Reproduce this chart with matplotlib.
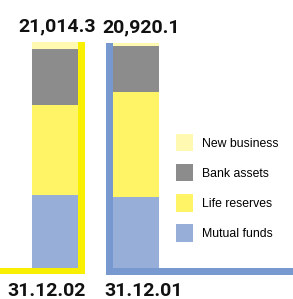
import numpy as np
import matplotlib
matplotlib.use('Agg')
import matplotlib.pyplot as plt
import matplotlib.patches as mpatches

# data
dates = ['31.12.02', '31.12.01']
totals = [21014.3, 20920.1]
mutual_funds = [6790, 6600]
life_reserves = [8370, 9760]
bank_assets = [5200, 4280]
new_business = [654.3, 280.1]

series = [mutual_funds, life_reserves, bank_assets, new_business]
names = ['Mutual funds', 'Life reserves', 'Bank assets', 'New business']
colors = ['#96aed8', '#fff466', '#8c8c8c', '#fff9b2']

plt.rcParams['font.family'] = ['Liberation Sans', 'DejaVu Sans']

W, H = 293, 299
fig = plt.figure(figsize=(W / 100, H / 100), dpi=100)
ax = fig.add_axes([0, 0, 1, 1])
ax.set_axis_off()

# layout: one pixel in data units
upx = totals[0] / 226.0
xpx = 1 / 81.0
ax.set_ylim(-31 * upx, 268 * upx)
ax.set_xlim(-55 * xpx, (W - 55) * xpx)

x = np.arange(len(dates))
bw = 46 * xpx
bottom = np.zeros(len(dates))
for vals, name, c in zip(series, names, colors):
    ax.bar(x, vals, bw, bottom=bottom, color=c, label=name, linewidth=0)
    bottom += np.array(vals)

# accent frames
lw = 7 * xpx
yellow = '#f9ef00'
blue = '#7799cf'
r = x[0] + bw / 2
ax.add_patch(mpatches.Rectangle((r, -6 * upx), lw, totals[0] + 6 * upx,
             color=yellow, lw=0))
ax.add_patch(mpatches.Rectangle((ax.get_xlim()[0], -6 * upx),
             r + lw - ax.get_xlim()[0], 6 * upx, color=yellow, lw=0))
l = x[1] - bw / 2
ax.add_patch(mpatches.Rectangle((l - lw, 0), lw, totals[1],
             color=blue, lw=0))
ax.add_patch(mpatches.Rectangle((l - lw, -7 * upx),
             ax.get_xlim()[1] - l + lw, 7 * upx, color=blue, lw=0))

# labels
big = dict(ha='center', va='center', fontsize=14, fontweight='bold',
           family=['Roboto', 'DejaVu Sans'], color='#111111')
val_off = [2 * xpx, 5.5 * xpx]
date_off = [-8.5 * xpx, 8 * xpx]
for i in range(len(dates)):
    ax.text(x[i] + val_off[i], totals[i] + 16 * upx, '{:,.1f}'.format(totals[i]), **big)
    ax.text(x[i] + date_off[i], -23 * upx, dates[i], **big)

h, lab = ax.get_legend_handles_labels()
ax.legend(h[::-1], lab[::-1], loc='upper left',
          bbox_to_anchor=(176 / W, 1 - 134 / H), bbox_transform=fig.transFigure,
          frameon=False, fontsize=8.8, borderpad=0, borderaxespad=0,
          handlelength=1.4, handleheight=1.8, handletextpad=0.7,
          labelspacing=1.05)

fig.savefig('out.png', dpi=100)
